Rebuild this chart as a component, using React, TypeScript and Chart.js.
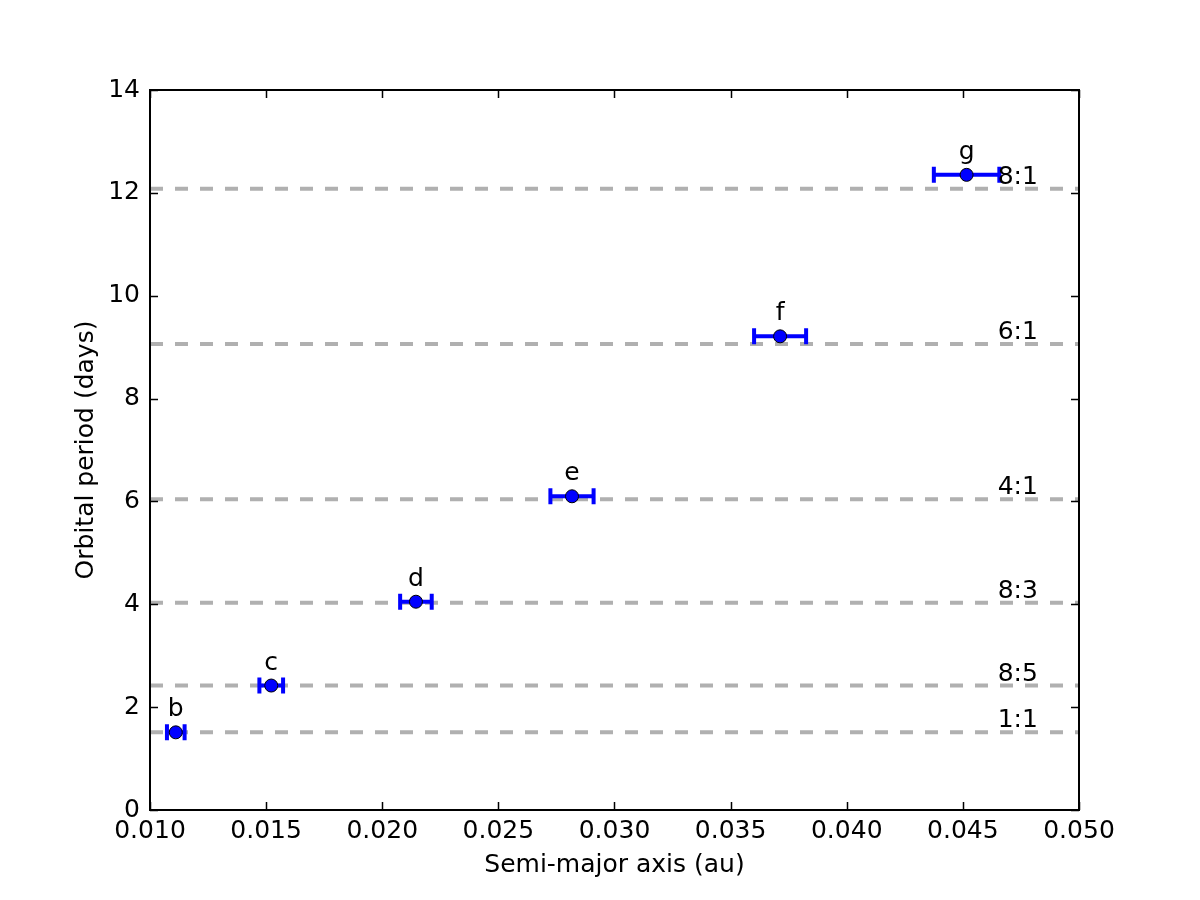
import React, { useEffect, useRef } from "react";
import { Chart, registerables } from "chart.js";

Chart.register(...registerables);

const planetNames = ["b", "c", "d", "e", "f", "g"];
const semiMajorAxis = [0.01111, 0.01522, 0.02145, 0.02817, 0.03713, 0.04516];
const semiMajorAxisError = [0.00038, 0.00051, 0.00068, 0.00093, 0.00112, 0.00141];
const orbitalPeriods = [1.51, 2.42, 4.05, 6.1, 9.21, 12.35];

const resonanceNames = ["1:1", "8:5", "8:3", "4:1", "6:1", "8:1"];
const resonancePeriods = [1.51, 2.42, 4.03, 6.04, 9.06, 12.08];

const xMin = 0.01;
const xMax = 0.05;
const xStep = 0.005;
const yMin = 0;
const yMax = 14;
const yStep = 2;
const resonanceLabelX = 0.0465;

const FONT = "'DejaVu Sans', sans-serif";
const FS = 25;

const framePlugin = {
  id: "frameTicks",
  afterDraw(chart: any) {
    const { ctx, chartArea } = chart;
    const { left, right, top, bottom } = chartArea;
    const xs = chart.scales.x;
    const ys = chart.scales.y;
    ctx.save();
    ctx.strokeStyle = "#000";
    ctx.lineWidth = 1.5;
    const tl = 8;
    ctx.beginPath();
    xs.ticks.forEach((t: any) => {
      const px = Math.round(xs.getPixelForValue(t.value)) + 0.5;
      ctx.moveTo(px, bottom);
      ctx.lineTo(px, bottom - tl);
      ctx.moveTo(px, top);
      ctx.lineTo(px, top + tl);
    });
    ys.ticks.forEach((t: any) => {
      const py = Math.round(ys.getPixelForValue(t.value)) + 0.5;
      ctx.moveTo(left, py);
      ctx.lineTo(left + tl, py);
      ctx.moveTo(right, py);
      ctx.lineTo(right - tl, py);
    });
    ctx.stroke();
    ctx.lineWidth = 2;
    ctx.strokeRect(left, top, right - left, bottom - top);
    ctx.restore();
  },
};

const errorBarPlugin = {
  id: "errorBars",
  beforeDatasetDraw(chart: any, args: any) {
    if (args.index !== 0) return;
    const { ctx } = chart;
    const xs = chart.scales.x;
    const ys = chart.scales.y;
    ctx.save();
    ctx.strokeStyle = "#0000ff";
    ctx.lineWidth = 4;
    semiMajorAxis.forEach((a, i) => {
      const x0 = xs.getPixelForValue(a - semiMajorAxisError[i]);
      const x1 = xs.getPixelForValue(a + semiMajorAxisError[i]);
      const py = ys.getPixelForValue(orbitalPeriods[i]);
      ctx.beginPath();
      ctx.moveTo(x0, py);
      ctx.lineTo(x1, py);
      ctx.moveTo(x0, py - 8);
      ctx.lineTo(x0, py + 8);
      ctx.moveTo(x1, py - 8);
      ctx.lineTo(x1, py + 8);
      ctx.stroke();
    });
    ctx.restore();
  },
  afterDatasetsDraw(chart: any) {
    const { ctx } = chart;
    const xs = chart.scales.x;
    const ys = chart.scales.y;
    ctx.save();
    ctx.fillStyle = "#000";
    ctx.font = `${FS}px ${FONT}`;
    ctx.textBaseline = "alphabetic";
    ctx.textAlign = "center";
    planetNames.forEach((n, i) => {
      const px = xs.getPixelForValue(semiMajorAxis[i]);
      const py = ys.getPixelForValue(orbitalPeriods[i]);
      ctx.fillText(n, px, py - 16);
    });
    ctx.textAlign = "left";
    resonanceNames.forEach((n, i) => {
      const px = xs.getPixelForValue(resonanceLabelX);
      const py = ys.getPixelForValue(resonancePeriods[i]);
      ctx.fillText(n, px, py - 5);
    });
    ctx.restore();
  },
};

export default function App() {
  const canvasRef = useRef<HTMLCanvasElement | null>(null);

  useEffect(() => {
    if (!canvasRef.current) return;
    const lineDatasets = resonancePeriods.map((p, i) => ({
      type: "line" as const,
      label: resonanceNames[i],
      data: [
        { x: xMin, y: p },
        { x: xMax, y: p },
      ],
      borderColor: "#b0b0b0",
      borderWidth: 4,
      borderDash: [13, 12],
      pointRadius: 0,
      fill: false,
      order: 10,
    }));
    const chart = new Chart(canvasRef.current, {
      type: "scatter",
      data: {
        datasets: [
          {
            type: "scatter",
            label: "planets",
            data: semiMajorAxis.map((a, i) => ({ x: a, y: orbitalPeriods[i] })),
            backgroundColor: "#0000ff",
            borderColor: "#000000",
            borderWidth: 1,
            pointRadius: 6.5,
            order: 0,
          } as any,
          ...lineDatasets,
        ],
      },
      options: {
        animation: false,
        responsive: false,
        devicePixelRatio: 1,
        layout: { padding: { left: 0, top: 90, right: 121, bottom: 0 } },
        plugins: {
          legend: { display: false },
          tooltip: { enabled: false },
        },
        scales: {
          x: {
            type: "linear",
            min: xMin,
            max: xMax,
            grid: { display: false, drawTicks: false },
            border: { display: false },
            ticks: {
              stepSize: xStep,
              color: "#000",
              font: { family: FONT, size: FS },
              padding: 6,
              callback: (v: any) => Number(v).toFixed(3),
              maxRotation: 0,
              autoSkip: false,
            },
            title: {
              display: true,
              text: "Semi-major axis (au)",
              color: "#000",
              font: { family: FONT, size: FS },
              padding: { top: 0, bottom: 20 },
            },
            afterFit: (s: any) => {
              s.height = 90;
            },
          },
          y: {
            type: "linear",
            min: yMin,
            max: yMax,
            grid: { display: false, drawTicks: false },
            border: { display: false },
            ticks: {
              stepSize: yStep,
              color: "#000",
              font: { family: FONT, size: FS },
              padding: 10,
              autoSkip: false,
            },
            title: {
              display: true,
              text: "Orbital period (days)",
              color: "#000",
              font: { family: FONT, size: FS },
              padding: { top: 71, bottom: 0 },
            },
            afterFit: (s: any) => {
              s.width = 150;
            },
          },
        },
      } as any,
      plugins: [framePlugin, errorBarPlugin],
    });
    return () => chart.destroy();
  }, []);

  return (
    <div style={{ position: "absolute", left: 0, top: 0, width: 1200, height: 900, background: "#fff" }}>
      <canvas ref={canvasRef} width={1200} height={900} style={{ width: 1200, height: 900 }} />
    </div>
  );
}
